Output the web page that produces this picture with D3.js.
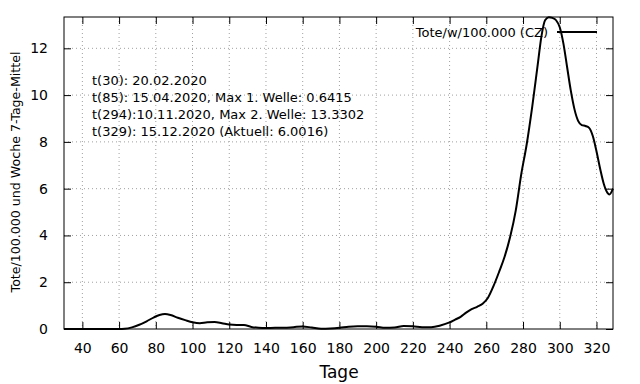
<!DOCTYPE html>
<html>
<head>
<meta charset="utf-8">
<script src="https://cdn.jsdelivr.net/npm/d3@7"></script>
<style>
html,body{margin:0;padding:0;background:#fff;}
svg{display:block;font-family:"DejaVu Sans",sans-serif;}
</style>
</head>
<body>
<svg id="chart" width="640" height="384"></svg>
<script>
const days = [30,40,50,60,63,67,71,75,79,82,85,88,92,96,100,104,108,112,116,120,124,128,132,136,140,145,150,155,160,165,170,175,180,185,190,195,200,205,210,215,220,225,230,235,240,243,246,249,252,255,258,261,264,267,270,273,276,279,282,285,288,290,292,294,296,298,300,302,304,306,308,310,312,314,316,318,320,322,324,326,327,329];
const values = [0,0,0,0,0.01,0.07,0.18,0.33,0.5,0.6,0.6415,0.6,0.48,0.38,0.29,0.25,0.29,0.3,0.25,0.19,0.17,0.17,0.09,0.05,0.04,0.05,0.05,0.08,0.11,0.06,0.01,0.02,0.05,0.1,0.12,0.12,0.1,0.05,0.06,0.13,0.12,0.08,0.08,0.15,0.28,0.4,0.52,0.7,0.85,0.95,1.08,1.35,1.85,2.45,3.1,3.94,5.05,6.6,7.9,9.5,11.3,12.5,13.2,13.3302,13.3,13.2,12.9,12.2,11.2,10.2,9.4,8.9,8.72,8.68,8.6,8.25,7.6,6.85,6.2,5.82,5.75,6.0016];
const xTicks = [40,60,80,100,120,140,160,180,200,220,240,260,280,300,320];
const yTicks = [0,2,4,6,8,10,12];
const legendLabel = "Tote/w/100.000 (CZ)";
const xTitle = "Tage";
const yTitle = "Tote/100.000 und Woche 7-Tage-Mittel";
const notes = [
  "t(30): 20.02.2020",
  "t(85): 15.04.2020, Max 1. Welle: 0.6415",
  "t(294):10.11.2020, Max 2. Welle: 13.3302",
  "t(329): 15.12.2020 (Aktuell: 6.0016)"
];

const L = 64, R = 613, T = 17, B = 329;
const svg = d3.select("#chart");
const x = d3.scaleLinear().domain([30, 329]).range([L, R]);
const y = d3.scaleLinear().domain([0, 13.3302]).range([B, T + 0.2]);

// grid
const g = svg.append("g");
g.selectAll(".gx").data(xTicks).join("line")
  .attr("x1", d => x(d)).attr("x2", d => x(d)).attr("y1", T).attr("y2", B)
  .attr("stroke", "#a0a0a0").attr("stroke-width", 1).attr("stroke-dasharray", "1,3");
g.selectAll(".gy").data(yTicks.filter(d => d > 0)).join("line")
  .attr("x1", L).attr("x2", R).attr("y1", d => y(d)).attr("y2", d => y(d))
  .attr("stroke", "#a0a0a0").attr("stroke-width", 1).attr("stroke-dasharray", "1,3");

// line
const line = d3.line().x((d, i) => x(days[i])).y(d => y(d)).curve(d3.curveMonotoneX);
svg.append("path").datum(values).attr("d", line)
  .attr("fill", "none").attr("stroke", "#000").attr("stroke-width", 2).attr("stroke-linejoin", "round");

// axes with inward ticks (mirrored)
const tickLen = 7;
const axB = svg.append("g").attr("transform", `translate(0,${B})`)
  .call(d3.axisBottom(x).tickValues(xTicks).tickSizeInner(-tickLen).tickSizeOuter(0).tickPadding(14));
const axT = svg.append("g").attr("transform", `translate(0,${T})`)
  .call(d3.axisTop(x).tickValues(xTicks).tickSizeInner(-tickLen).tickSizeOuter(0).tickFormat(""));
const axL = svg.append("g").attr("transform", `translate(${L},0)`)
  .call(d3.axisLeft(y).tickValues(yTicks).tickSizeInner(-tickLen).tickSizeOuter(0).tickPadding(16));
const axR = svg.append("g").attr("transform", `translate(${R},0)`)
  .call(d3.axisRight(y).tickValues(yTicks).tickSizeInner(-tickLen).tickSizeOuter(0).tickFormat(""));
[axB, axT, axL, axR].forEach(a => {
  a.select(".domain").remove();
  a.selectAll(".tick line").attr("stroke", "#000").attr("stroke-width", 1);
  a.selectAll("text").attr("font-family", "DejaVu Sans").attr("font-size", 14).attr("fill", "#000");
});
axL.selectAll(".tick").filter(d => d === 0).select("line").remove();

// frame
svg.append("rect").attr("x", L).attr("y", T).attr("width", R - L).attr("height", B - T)
  .attr("fill", "none").attr("stroke", "#000").attr("stroke-width", 1);

// titles
svg.append("text").attr("x", 339).attr("y", 378).attr("text-anchor", "middle")
  .attr("font-size", 17).text(xTitle);
svg.append("text").attr("transform", "translate(20,172) rotate(-90)").attr("text-anchor", "middle")
  .attr("font-size", 12.6).text(yTitle);

// legend
svg.append("text").attr("x", 548).attr("y", 37).attr("text-anchor", "end")
  .attr("font-size", 13).text(legendLabel);
svg.append("line").attr("x1", 557).attr("x2", 597).attr("y1", 32).attr("y2", 32)
  .attr("stroke", "#000").attr("stroke-width", 2);

// notes
svg.append("g").selectAll("text").data(notes).join("text")
  .attr("x", 92).attr("y", (d, i) => 85 + i * 17).attr("font-size", 13).text(d => d);
</script>
</body>
</html>
